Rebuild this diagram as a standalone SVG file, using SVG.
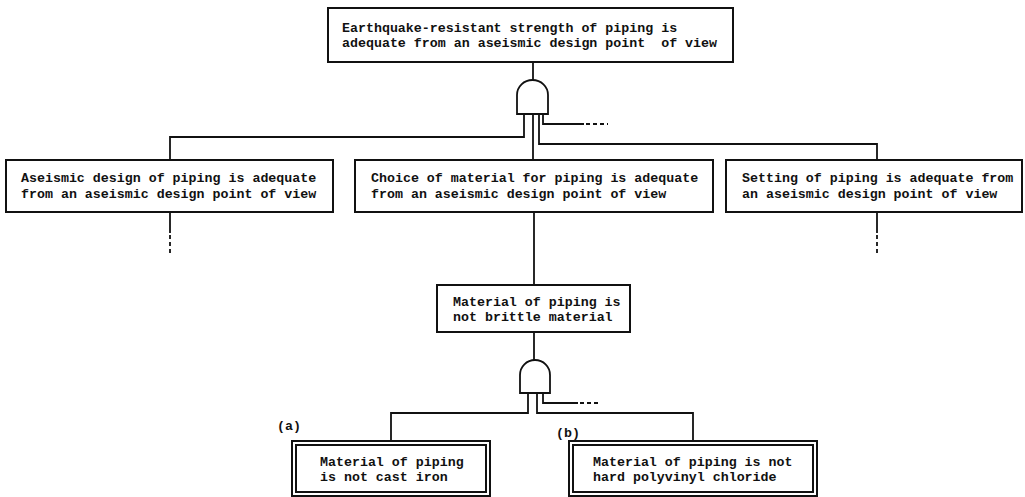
<svg xmlns="http://www.w3.org/2000/svg" width="1025" height="497" viewBox="0 0 1025 497">
<style>
.box{fill:#fff;stroke:#111;stroke-width:2}
.ln{fill:none;stroke:#111;stroke-width:1.8}
.dash{fill:none;stroke:#111;stroke-width:1.8;stroke-dasharray:4 3}
.gate{fill:#fff;stroke:#111;stroke-width:1.8}
text{font-family:"Liberation Mono","DejaVu Sans Mono",monospace;font-size:13.3px;font-weight:bold;fill:#111}
</style>
<rect width="1025" height="497" fill="#fff"/>
<g id="connectors">
<path class="ln" d="M533,62 V80"/>
<path class="ln" d="M524,114 V137 H170 V160"/>
<path class="ln" d="M533,114 V160"/>
<path class="ln" d="M539,114 V144 H877 V160"/>
<path class="ln" d="M543,114 V124 H584"/>
<path class="dash" d="M586,124 H608"/>
<path class="ln" d="M170,212 V233"/>
<path class="dash" d="M170,235 V256"/>
<path class="ln" d="M877,212 V233"/>
<path class="dash" d="M877,235 V256"/>
<path class="ln" d="M534,212 V285"/>
<path class="ln" d="M534,332 V360"/>
<path class="ln" d="M528,393 V413 H391 V441"/>
<path class="ln" d="M537,393 V413 H693 V441"/>
<path class="ln" d="M543,393 V403 H578"/>
<path class="dash" d="M580,403 H599"/>
</g>
<g id="gate1"><path class="gate" d="M517,114 V95 A15.5,15 0 0 1 548,95 V114 Z"/></g>
<g id="gate2"><path class="gate" d="M520,393 V375 A15,15 0 0 1 550,375 V393 Z"/></g>
<g id="top">
<rect class="box" x="328" y="8" width="405" height="54"/>
<text x="342" y="32">Earthquake-resistant strength of piping is</text>
<text x="342" y="47" xml:space="preserve">adequate from an aseismic design point  of view</text>
</g>
<g id="aseismic">
<rect class="box" x="6" y="160" width="327" height="52"/>
<text x="21" y="182">Aseismic design of piping is adequate</text>
<text x="21" y="198">from an aseismic design point of view</text>
</g>
<g id="choice">
<rect class="box" x="355" y="160" width="358" height="52"/>
<text x="371" y="182">Choice of material for piping is adequate</text>
<text x="371" y="198">from an aseismic design point of view</text>
</g>
<g id="setting">
<rect class="box" x="726" y="160" width="296" height="52"/>
<text x="742" y="182">Setting of piping is adequate from</text>
<text x="742" y="198">an aseismic design point of view</text>
</g>
<g id="brittle">
<rect class="box" x="437" y="285" width="193" height="47"/>
<text x="453" y="306">Material of piping is</text>
<text x="453" y="321">not brittle material</text>
</g>
<g id="castiron">
<rect class="box" x="292" y="441" width="198" height="55"/>
<rect class="box" x="296" y="445" width="190" height="47" stroke-width="1.5"/>
<text x="277" y="430">(a)</text>
<text x="320" y="466">Material of piping</text>
<text x="320" y="481">is not cast iron</text>
</g>
<g id="pvc">
<rect class="box" x="569" y="441" width="248" height="55"/>
<rect class="box" x="573" y="445" width="240" height="47" stroke-width="1.5"/>
<text x="556" y="437">(b)</text>
<text x="593" y="466">Material of piping is not</text>
<text x="593" y="481">hard polyvinyl chloride</text>
</g>
</svg>
